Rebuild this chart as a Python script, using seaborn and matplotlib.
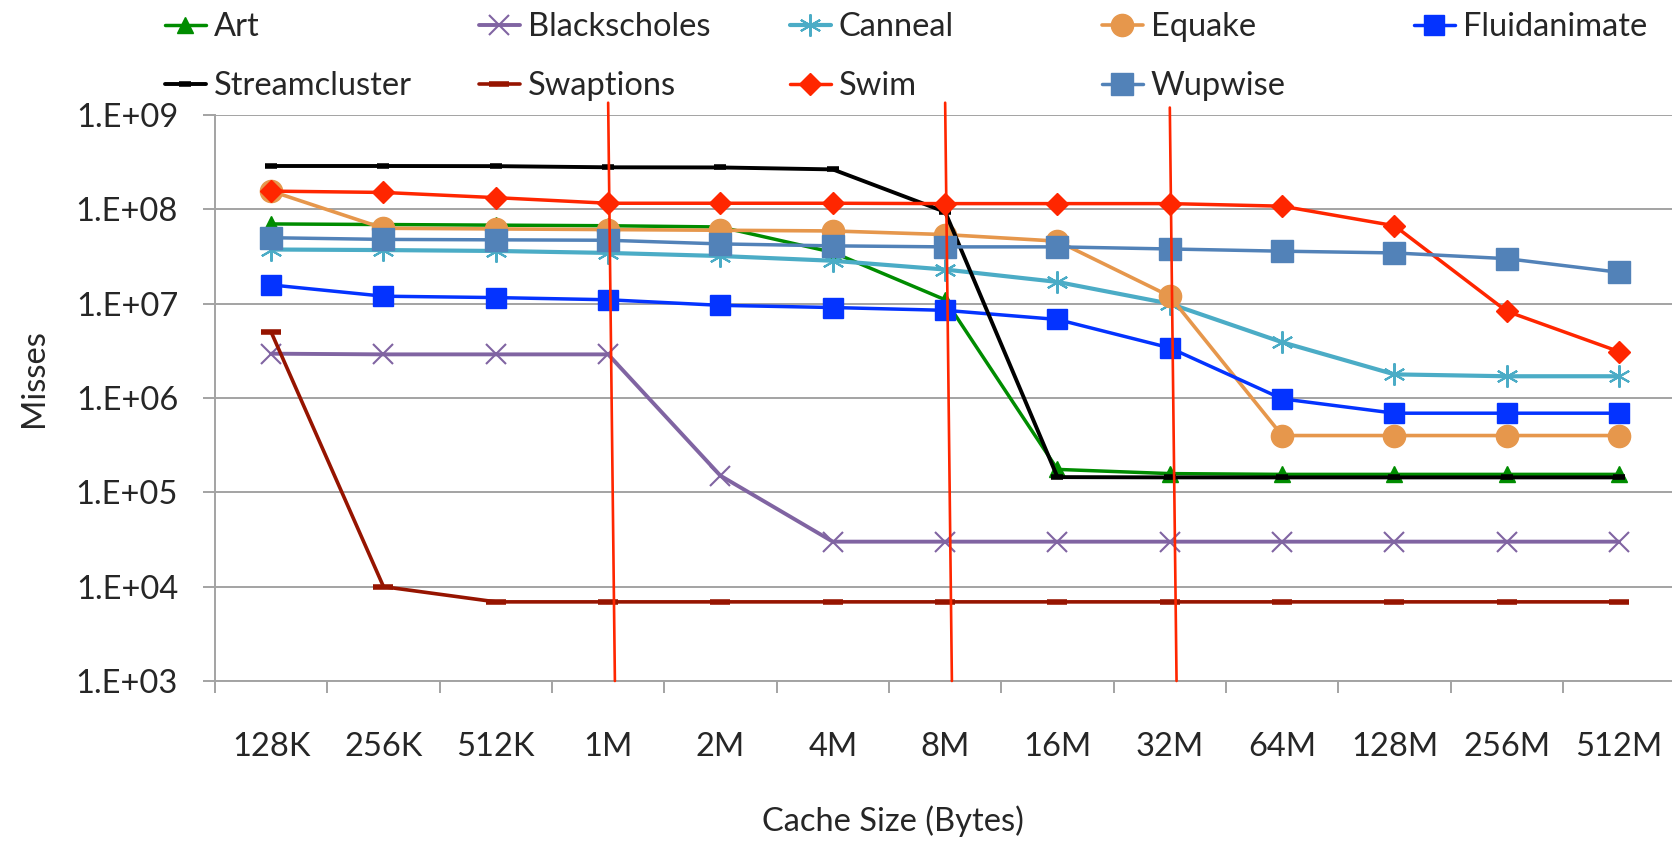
import numpy as np
import matplotlib
matplotlib.use("Agg")
import matplotlib.pyplot as plt
import seaborn as sns
from matplotlib.ticker import FixedLocator, FuncFormatter, NullLocator

# Cache sizes on the category axis
sizes = ["128K", "256K", "512K", "1M", "2M", "4M", "8M",
         "16M", "32M", "64M", "128M", "256M", "512M"]

# Misses per benchmark at each cache size
art = [7.0e7, 6.9e7, 6.8e7, 6.7e7, 6.5e7, 3.5e7, 1.1e7,
       1.75e5, 1.58e5, 1.55e5, 1.55e5, 1.55e5, 1.55e5]
blackscholes = [2.95e6, 2.9e6, 2.9e6, 2.9e6, 1.5e5, 3.0e4, 3.0e4,
                3.0e4, 3.0e4, 3.0e4, 3.0e4, 3.0e4, 3.0e4]
canneal = [3.75e7, 3.7e7, 3.62e7, 3.45e7, 3.2e7, 2.85e7, 2.3e7,
           1.7e7, 1.0e7, 3.9e6, 1.78e6, 1.7e6, 1.7e6]
equake = [1.56e8, 6.3e7, 6.2e7, 6.1e7, 6.0e7, 5.9e7, 5.4e7,
          4.6e7, 1.2e7, 4.0e5, 4.0e5, 4.0e5, 4.0e5]
fluidanimate = [1.58e7, 1.2e7, 1.16e7, 1.1e7, 9.6e6, 9.1e6, 8.5e6,
                6.8e6, 3.4e6, 9.8e5, 6.9e5, 6.9e5, 6.9e5]
streamcluster = [2.88e8, 2.88e8, 2.87e8, 2.79e8, 2.78e8, 2.65e8, 9.4e7,
                 1.45e5, 1.44e5, 1.44e5, 1.44e5, 1.44e5, 1.44e5]
swaptions = [5.0e6, 1.0e4, 6.9e3, 6.9e3, 6.9e3, 6.9e3, 6.9e3,
             6.9e3, 6.9e3, 6.9e3, 6.9e3, 6.9e3, 6.9e3]
swim = [1.56e8, 1.51e8, 1.33e8, 1.16e8, 1.16e8, 1.16e8, 1.15e8,
        1.15e8, 1.15e8, 1.08e8, 6.7e7, 8.3e6, 3.1e6]
wupwise = [5.0e7, 4.8e7, 4.75e7, 4.7e7, 4.3e7, 4.1e7, 4.0e7,
           4.0e7, 3.8e7, 3.6e7, 3.45e7, 3.0e7, 2.15e7]

# Hand-drawn red divider lines (category position at top/bottom, misses at top/bottom)
divider_x_top = [3.0, 6.0, 8.0]
divider_x_bottom = [3.06, 6.06, 8.06]
divider_y_top = [1.35e9, 1.35e9, 1.2e9]
divider_y_bottom = [1.0e3, 1.0e3, 1.0e3]

sns.set_style("white")
plt.rcParams["font.family"] = ["Lato", "DejaVu Sans"]
FS = 23.5
plt.rcParams["font.size"] = FS
GRAY = "#A3A3A3"

W, H = 1672, 843
fig = plt.figure(figsize=(W / 100, H / 100), dpi=100)
ax = fig.add_axes([215 / W, 162 / H, 1460.3 / W, 566 / H])
ax.set_yscale("log")

pos = np.arange(len(sizes))

series = [
    # name, values, color, marker, markersize, edge width, line width
    ("Art", art, "#008C00", "^", 12, 1.0, 2.5),
    ("Blackscholes", blackscholes, "#8064A2", "x", 15, 1.5, 2.8),
    ("Canneal", canneal, "#4BACC6", (6, 2, 0), 16, 1.5, 3.0),
    ("Equake", equake, "#E6974C", "o", 16, 1.0, 2.6),
    ("Fluidanimate", fluidanimate, "#0433FF", "s", 15, 1.0, 2.5),
    ("Streamcluster", streamcluster, "#000000", "_", 9, 4.0, 2.8),
    ("Swaptions", swaptions, "#961400", "_", 15, 4.0, 2.6),
    ("Swim", swim, "#FF2600", "D", 11.5, 1.0, 2.5),
    ("Wupwise", wupwise, "#5282B8", "s", 16.5, 1.0, 2.5),
]

handles = {}
for z, (name, vals, color, marker, ms, mew, lw) in enumerate(series):
    sns.lineplot(x=pos, y=vals, ax=ax, color=color, marker=marker,
                 markersize=ms, markeredgewidth=mew, markeredgecolor=color,
                 markerfacecolor=color, linewidth=lw, zorder=3 + z,
                 legend=False, sort=False, estimator=None)
    line = ax.lines[-1]
    line.set_label(name)
    handles[name] = line

for xt, xb, yt, yb in zip(divider_x_top, divider_x_bottom,
                          divider_y_top, divider_y_bottom):
    sns.lineplot(x=[xt, xb], y=[yt, yb], ax=ax, color="#FF2600",
                 linewidth=1.9, zorder=30, clip_on=False, legend=False,
                 sort=False, estimator=None)

# Axes styling
ax.set_ylim(1e3, 1e9)
ax.set_xlim(-0.5, len(sizes) - 0.5)
ax.yaxis.set_major_locator(FixedLocator(10.0 ** np.arange(3, 10)))
ax.yaxis.set_minor_locator(NullLocator())
ax.yaxis.set_major_formatter(
    FuncFormatter(lambda v, p: "1.E+%02d" % int(round(np.log10(v)))))
ax.set_xticks(pos)
ax.set_xticklabels(sizes)
ax.set_xticks(np.arange(-0.5, len(sizes)), minor=True)

ax.tick_params(axis="x", which="major", length=0, pad=37, labelsize=FS,
               bottom=True)
ax.tick_params(axis="x", which="minor", length=8.6, width=1.4, color=GRAY,
               direction="out", bottom=True)
ax.tick_params(axis="y", which="major", length=8.6, width=1.4, color=GRAY,
               direction="out", pad=18, labelsize=FS, left=True)

ax.grid(axis="y", color=GRAY, linewidth=1.4)
ax.grid(axis="x", visible=False)
ax.set_axisbelow(True)
for side in ("top", "right"):
    ax.spines[side].set_visible(False)
for side in ("left", "bottom"):
    ax.spines[side].set_color(GRAY)
    ax.spines[side].set_linewidth(1.4)
ax.set_xlabel("")
ax.set_ylabel("")

# Legend laid out as five evenly spaced columns of two rows
columns = [["Art", "Streamcluster"], ["Blackscholes", "Swaptions"],
           ["Canneal", "Swim"], ["Equake", "Wupwise"], ["Fluidanimate"]]
col_left = [165, 479, 790, 1102, 1414]
for names, xl in zip(columns, col_left):
    fig.legend(handles=[handles[n] for n in names], labels=names,
               loc="upper left", bbox_to_anchor=(xl / W, 1 - 12 / H),
               frameon=False, borderpad=0, borderaxespad=0,
               handlelength=1.25, handletextpad=0.25, labelspacing=0.9,
               fontsize=FS)

fig.text(893 / W, 1 - 821 / H, "Cache Size (Bytes)", ha="center",
         va="center", fontsize=FS)
fig.text(34 / W, 1 - 378 / H, "Misses", rotation=90, ha="center",
         va="center", fontsize=FS)

fig.savefig("out.png", dpi=100)
